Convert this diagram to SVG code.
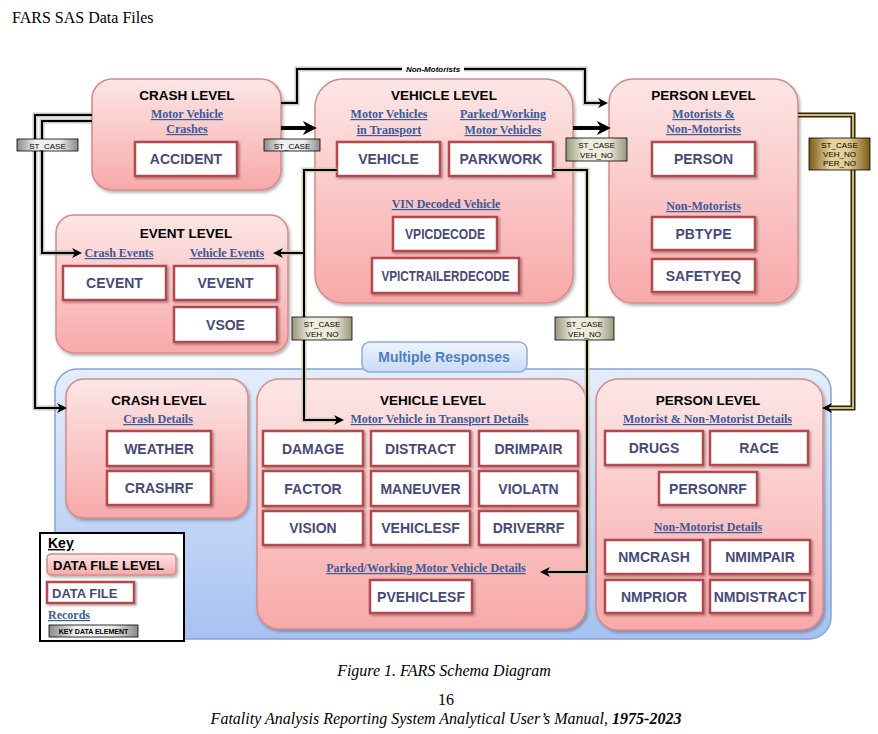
<svg xmlns="http://www.w3.org/2000/svg" width="878" height="734" viewBox="0 0 878 734">
<defs>
<linearGradient id="pinkG" x1="0" y1="0" x2="0" y2="1"><stop offset="0" stop-color="#fde6e6"/><stop offset="1" stop-color="#f8a9a9"/></linearGradient>
<linearGradient id="blueG" x1="0" y1="0" x2="0" y2="1"><stop offset="0" stop-color="#e4edfb"/><stop offset="1" stop-color="#a7c2f1"/></linearGradient>
<linearGradient id="tabG" x1="0" y1="0" x2="0" y2="1"><stop offset="0" stop-color="#eef4fc"/><stop offset="1" stop-color="#c9dbf5"/></linearGradient>
<linearGradient id="grayG" x1="0" y1="0" x2="1" y2="0"><stop offset="0" stop-color="#8a8a8a"/><stop offset="0.3" stop-color="#f0f0f0"/><stop offset="0.7" stop-color="#ededed"/><stop offset="1" stop-color="#8a8a8a"/></linearGradient>
<linearGradient id="khakiG" x1="0" y1="0" x2="1" y2="0"><stop offset="0" stop-color="#99977c"/><stop offset="0.3" stop-color="#efedde"/><stop offset="0.7" stop-color="#ebe9d8"/><stop offset="1" stop-color="#99977c"/></linearGradient>
<linearGradient id="goldG" x1="0" y1="0" x2="1" y2="0"><stop offset="0" stop-color="#7a5a18"/><stop offset="0.35" stop-color="#e6d29a"/><stop offset="0.65" stop-color="#e2cc90"/><stop offset="1" stop-color="#7a5a18"/></linearGradient>
<filter id="sh" x="-10%" y="-10%" width="125%" height="125%"><feDropShadow dx="1.5" dy="2" stdDeviation="1.5" flood-color="#000" flood-opacity="0.3"/></filter>
<filter id="sh2" x="-10%" y="-10%" width="125%" height="130%"><feDropShadow dx="1.5" dy="1.5" stdDeviation="1" flood-color="#000" flood-opacity="0.35"/></filter>
<marker id="ah" viewBox="0 0 10 10" refX="3" refY="5" markerWidth="10" markerHeight="10" markerUnits="userSpaceOnUse" orient="auto"><path d="M0,0 L10,5 L0,10 L3,5 z" fill="#000"/></marker>
<marker id="ahB" viewBox="0 0 10 10" refX="3" refY="5" markerWidth="14" markerHeight="14" markerUnits="userSpaceOnUse" orient="auto"><path d="M0,0 L10,5 L0,10 L3,5 z" fill="#000"/></marker>
<style>
.lvl{fill:url(#pinkG);stroke:#d58a8a;stroke-width:1.5;filter:url(#sh)}
.df{fill:#fff;stroke:#b44a4e;stroke-width:2.5;filter:url(#sh2)}
.dft{font-family:"Liberation Sans",Arial,sans-serif;font-weight:bold;font-size:14px;fill:#474a79;text-anchor:middle}
.ttl{font-family:"Liberation Sans",Arial,sans-serif;font-weight:bold;font-size:13.5px;fill:#000;text-anchor:middle}
.sub{font-family:"Liberation Serif","Times New Roman",serif;font-weight:bold;font-size:12px;fill:#3b5a98;text-anchor:middle;text-decoration:underline}
.lbl{font-family:"Liberation Sans",Arial,sans-serif;font-size:8px;fill:#000;text-anchor:middle}
.glowG{fill:none;stroke:#9a9a9a;stroke-width:5;stroke-opacity:0.55}
.glowK{fill:none;stroke:#c9c59b;stroke-width:5;stroke-opacity:0.8}
.ln{fill:none;stroke:#000;stroke-width:2}
.cap{font-family:"Liberation Serif","Times New Roman",serif;font-size:16px;fill:#000}
</style>
</defs>
<rect width="878" height="734" fill="#fff"/>
<text class="cap" x="12" y="23" font-size="16.5">FARS SAS Data Files</text>

<!-- container -->
<g id="multiple-responses">
<rect x="55" y="369" width="776" height="270" rx="22" fill="url(#blueG)" stroke="#85a3d3" stroke-width="1.5"/>
<rect x="362" y="342" width="165" height="30" rx="8" fill="url(#tabG)" stroke="#8eabd8" stroke-width="1.5"/>
<text x="444" y="362" font-family="Liberation Sans, Arial, sans-serif" font-weight="bold" font-size="14" fill="#4f7fbf" text-anchor="middle">Multiple Responses</text>
</g>

<!-- top level -->
<g id="crash-level">
<rect class="lvl" x="92" y="79" width="189" height="111" rx="20"/>
<text class="ttl" x="187" y="100">CRASH LEVEL</text>
<text class="sub" x="187" y="118">Motor Vehicle</text>
<text class="sub" x="187" y="133">Crashes</text>
</g>
<g id="accident"><rect class="df" x="135" y="142" width="102" height="34"/><text class="dft" x="186" y="164">ACCIDENT</text></g>

<g id="vehicle-level">
<rect class="lvl" x="315" y="79" width="258" height="224" rx="28"/>
<text class="ttl" x="444" y="100">VEHICLE LEVEL</text>
<text class="sub" x="389" y="118">Motor Vehicles</text>
<text class="sub" x="389" y="134">in Transport</text>
<text class="sub" x="503" y="118">Parked/Working</text>
<text class="sub" x="503" y="134">Motor Vehicles</text>
<text class="sub" x="446" y="208">VIN Decoded Vehicle</text>
</g>
<g id="vehicle"><rect class="df" x="337" y="142" width="103" height="34"/><text class="dft" x="388.5" y="164">VEHICLE</text></g>
<g id="parkwork"><rect class="df" x="449" y="142" width="104" height="34"/><text class="dft" x="501" y="164">PARKWORK</text></g>
<g id="vpicdecode"><rect class="df" x="393" y="217" width="104" height="34"/><text class="dft" x="445" y="239" textLength="80" lengthAdjust="spacingAndGlyphs">VPICDECODE</text></g>
<g id="vpictrailerdecode"><rect class="df" x="372" y="258" width="147" height="35"/><text class="dft" x="445.5" y="280.5" textLength="128" lengthAdjust="spacingAndGlyphs">VPICTRAILERDECODE</text></g>

<g id="person-level">
<rect class="lvl" x="609" y="79" width="189" height="224" rx="24"/>
<text class="ttl" x="703.5" y="100">PERSON LEVEL</text>
<text class="sub" x="703.5" y="118">Motorists &amp;</text>
<text class="sub" x="703.5" y="133">Non-Motorists</text>
<text class="sub" x="703.5" y="210">Non-Motorists</text>
</g>
<g id="person"><rect class="df" x="652" y="142" width="103" height="34"/><text class="dft" x="703.5" y="164">PERSON</text></g>
<g id="pbtype"><rect class="df" x="652" y="217" width="103" height="33"/><text class="dft" x="703.5" y="238.5">PBTYPE</text></g>
<g id="safetyeq"><rect class="df" x="652" y="259" width="103" height="33"/><text class="dft" x="703.5" y="280.5">SAFETYEQ</text></g>

<g id="event-level">
<rect class="lvl" x="56" y="215" width="232" height="138" rx="18"/>
<text class="ttl" x="186" y="238">EVENT LEVEL</text>
<text class="sub" x="119" y="257">Crash Events</text>
<text class="sub" x="227" y="257">Vehicle Events</text>
</g>
<g id="cevent"><rect class="df" x="63" y="266" width="103" height="34"/><text class="dft" x="114.5" y="288">CEVENT</text></g>
<g id="vevent"><rect class="df" x="174" y="266" width="103" height="34"/><text class="dft" x="225.5" y="288">VEVENT</text></g>
<g id="vsoe"><rect class="df" x="174" y="307" width="103" height="35"/><text class="dft" x="225.5" y="329.5">VSOE</text></g>

<!-- bottom levels -->
<g id="crash-details-level">
<rect class="lvl" x="66" y="379" width="182" height="139" rx="18"/>
<text class="ttl" x="159" y="405">CRASH LEVEL</text>
<text class="sub" x="158" y="423">Crash Details</text>
</g>
<g id="weather"><rect class="df" x="107" y="431" width="104" height="35"/><text class="dft" x="159" y="453.5">WEATHER</text></g>
<g id="crashrf"><rect class="df" x="107" y="471" width="104" height="34"/><text class="dft" x="159" y="493">CRASHRF</text></g>

<g id="vehicle-details-level">
<rect class="lvl" x="257" y="379" width="329" height="250" rx="22"/>
<text class="ttl" x="433" y="405">VEHICLE LEVEL</text>
<text class="sub" x="439.5" y="423">Motor Vehicle in Transport Details</text>
<text class="sub" x="426" y="572">Parked/Working Motor Vehicle Details</text>
</g>
<g id="damage"><rect class="df" x="263" y="431" width="100" height="35"/><text class="dft" x="313" y="453.5">DAMAGE</text></g>
<g id="distract"><rect class="df" x="371" y="431" width="99" height="35"/><text class="dft" x="420.5" y="453.5">DISTRACT</text></g>
<g id="drimpair"><rect class="df" x="479" y="431" width="99" height="35"/><text class="dft" x="528.5" y="453.5">DRIMPAIR</text></g>
<g id="factor"><rect class="df" x="263" y="471" width="100" height="35"/><text class="dft" x="313" y="493.5">FACTOR</text></g>
<g id="maneuver"><rect class="df" x="371" y="471" width="99" height="35"/><text class="dft" x="420.5" y="493.5">MANEUVER</text></g>
<g id="violatn"><rect class="df" x="479" y="471" width="99" height="35"/><text class="dft" x="528.5" y="493.5">VIOLATN</text></g>
<g id="vision"><rect class="df" x="263" y="511" width="100" height="34"/><text class="dft" x="313" y="533">VISION</text></g>
<g id="vehiclesf"><rect class="df" x="371" y="511" width="99" height="34"/><text class="dft" x="420.5" y="533">VEHICLESF</text></g>
<g id="driverrf"><rect class="df" x="479" y="511" width="99" height="34"/><text class="dft" x="528.5" y="533">DRIVERRF</text></g>
<g id="pvehiclesf"><rect class="df" x="370" y="580" width="102" height="33"/><text class="dft" x="421" y="601.5">PVEHICLESF</text></g>

<g id="person-details-level">
<rect class="lvl" x="596" y="379" width="227" height="251" rx="22"/>
<text class="ttl" x="708" y="405">PERSON LEVEL</text>
<text class="sub" x="707.5" y="423">Motorist &amp; Non-Motorist Details</text>
<text class="sub" x="708" y="531">Non-Motorist Details</text>
</g>
<g id="drugs"><rect class="df" x="605" y="431" width="98" height="34"/><text class="dft" x="654" y="453">DRUGS</text></g>
<g id="race"><rect class="df" x="710" y="431" width="98" height="34"/><text class="dft" x="759" y="453">RACE</text></g>
<g id="personrf"><rect class="df" x="659" y="472" width="98" height="33"/><text class="dft" x="708" y="493.5">PERSONRF</text></g>
<g id="nmcrash"><rect class="df" x="605" y="540" width="98" height="34"/><text class="dft" x="654" y="562">NMCRASH</text></g>
<g id="nmimpair"><rect class="df" x="710" y="540" width="100" height="34"/><text class="dft" x="760" y="562">NMIMPAIR</text></g>
<g id="nmprior"><rect class="df" x="605" y="580" width="98" height="33"/><text class="dft" x="654" y="601.5">NMPRIOR</text></g>
<g id="nmdistract"><rect class="df" x="710" y="580" width="100" height="33"/><text class="dft" x="760" y="601.5">NMDISTRACT</text></g>

<!-- connectors -->
<g id="connectors">
<path class="glowG" d="M92,115 H35 V408 H60"/>
<path class="ln" d="M92,115 H35 V408 H60" marker-end="url(#ah)"/>
<path class="glowG" d="M92,121 H42 V253 H75"/>
<path class="ln" d="M92,121 H42 V253 H75" marker-end="url(#ah)"/>
<path class="glowG" d="M281,103 H297 V69 H585 V103 H601"/>
<path class="ln" d="M281,103 H297 V69 H585 V103 H601" marker-end="url(#ah)"/>
<path fill="none" stroke="#000" stroke-width="4" d="M281,128 H307" marker-end="url(#ahB)"/>
<path fill="none" stroke="#000" stroke-width="4" d="M573,128 H601" marker-end="url(#ahB)"/>
<path class="glowK" d="M337,170 H304 V420 H337 M304,253 H280"/>
<path class="ln" d="M337,170 H304 V420 H337" marker-end="url(#ah)"/>
<path class="ln" d="M304,253 H280" marker-end="url(#ah)"/>
<path class="glowK" d="M553,170 H587 V572 H547"/>
<path class="ln" d="M553,170 H587 V572 H547" marker-end="url(#ah)"/>
<path fill="none" stroke="#2e230c" stroke-width="5" d="M798,115 H853 V408 H829"/>
<path fill="none" stroke="#d4b878" stroke-width="2" d="M798,115 H853 V408 H829"/>
<path fill="none" stroke="none" d="M840,408 H829" marker-end="url(#ah)"/>
<rect x="402" y="64" width="62" height="10" fill="#fff"/>
<text x="433" y="72" font-family="Liberation Sans, Arial, sans-serif" font-style="italic" font-weight="bold" font-size="8" text-anchor="middle">Non-Motorists</text>
<rect x="17" y="139" width="61" height="12" fill="url(#grayG)" stroke="#000" stroke-width="0.8"/>
<text class="lbl" x="47.5" y="148.5">ST_CASE</text>
<rect x="264" y="139" width="56" height="12" fill="url(#grayG)" stroke="#000" stroke-width="0.8"/>
<text class="lbl" x="292" y="148.5">ST_CASE</text>
<rect x="566" y="138" width="61" height="23" fill="url(#khakiG)" stroke="#000" stroke-width="0.8"/>
<text class="lbl" x="596.5" y="147.5">ST_CASE</text>
<text class="lbl" x="596.5" y="157.5">VEH_NO</text>
<rect x="809" y="138" width="61" height="32" fill="url(#goldG)" stroke="#000" stroke-width="0.8"/>
<text class="lbl" x="839.5" y="147.5">ST_CASE</text>
<text class="lbl" x="839.5" y="156.5">VEH_NO</text>
<text class="lbl" x="839.5" y="165.5">PER_NO</text>
<rect x="292" y="317" width="60" height="23" fill="url(#khakiG)" stroke="#000" stroke-width="0.8"/>
<text class="lbl" x="322" y="326.5">ST_CASE</text>
<text class="lbl" x="322" y="336.5">VEH_NO</text>
<rect x="555" y="317" width="59" height="23" fill="url(#khakiG)" stroke="#000" stroke-width="0.8"/>
<text class="lbl" x="584.5" y="326.5">ST_CASE</text>
<text class="lbl" x="584.5" y="336.5">VEH_NO</text>
</g>

<!-- key -->
<g id="key">
<rect x="40" y="533" width="144" height="108" fill="#fff" stroke="#000" stroke-width="2"/>
<text x="48" y="548" font-family="Liberation Sans, Arial, sans-serif" font-weight="bold" font-size="14" text-decoration="underline">Key</text>
<rect class="lvl" x="47" y="554" width="129" height="21" rx="4"/>
<text x="53" y="570" font-family="Liberation Sans, Arial, sans-serif" font-weight="bold" font-size="13" fill="#000">DATA FILE LEVEL</text>
<rect class="df" x="47" y="582" width="87" height="21"/>
<text x="52" y="598" font-family="Liberation Sans, Arial, sans-serif" font-weight="bold" font-size="13" fill="#474a79">DATA FILE</text>
<text x="48" y="619" font-family="Liberation Serif, Times New Roman, serif" font-weight="bold" font-size="12" fill="#3b5a98" text-decoration="underline">Records</text>
<rect x="49" y="625" width="89" height="12" fill="url(#grayG)" stroke="#000" stroke-width="0.8"/>
<text x="93.5" y="634" font-family="Liberation Sans, Arial, sans-serif" font-weight="bold" font-size="7" text-anchor="middle">KEY DATA ELEMENT</text>
</g>

<text class="cap" x="444" y="676" font-style="italic" text-anchor="middle">Figure 1. FARS Schema Diagram</text>
<text class="cap" x="446" y="705" text-anchor="middle">16</text>
<text class="cap" x="446" y="724" font-style="italic" text-anchor="middle">Fatality Analysis Reporting System Analytical User’s Manual, <tspan font-weight="bold">1975-2023</tspan></text>
</svg>
